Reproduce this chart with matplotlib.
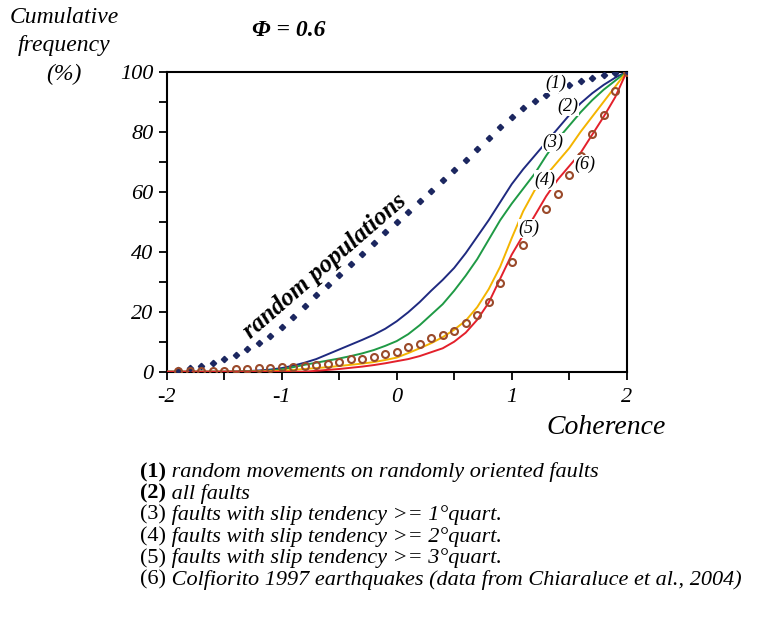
import numpy as np
import matplotlib
matplotlib.use("Agg")
import matplotlib.pyplot as plt

plt.rcParams['font.family'] = ['Liberation Serif', 'DejaVu Serif']

# coherence grid shared by every curve
coh = [round(-2.0 + 0.1 * i, 1) for i in range(41)]

# (1) random movements on randomly oriented faults (dotted)
random_pop = [0.0, 0.4, 1.1, 1.9, 2.8, 4.1, 5.6, 7.4, 9.6, 11.9,
              14.8, 18.3, 21.9, 25.6, 28.9, 32.2, 35.9, 39.3, 43.0, 46.4,
              50.0, 53.3, 56.9, 60.3, 63.9, 67.3, 70.7, 74.1, 77.8, 81.5,
              85.0, 87.8, 90.2, 92.3, 94.2, 95.7, 96.9, 98.0, 98.8, 99.4,
              100.0]
# (2) all faults
all_faults = [0.0, 0.0, 0.0, 0.0, 0.0, 0.0, 0.1, 0.2, 0.4, 0.7,
              1.2, 2.0, 3.0, 4.2, 5.8, 7.4, 9.0, 10.6, 12.3, 14.3,
              16.8, 19.8, 23.2, 27.0, 30.6, 34.6, 39.5, 45.0, 50.5, 56.5,
              62.5, 67.5, 72.0, 76.5, 81.0, 85.5, 89.5, 92.8, 95.6, 98.0,
              100.0]
# (3) slip tendency >= 1st quartile
st_q1 = [0.0, 0.0, 0.0, 0.0, 0.0, 0.0, 0.0, 0.1, 0.2, 0.4,
         0.8, 1.5, 2.3, 3.0, 3.7, 4.4, 5.2, 6.1, 7.2, 8.6,
         10.2, 12.5, 15.5, 19.0, 22.5, 27.0, 32.0, 37.5, 44.0, 50.5,
         56.0, 61.0, 66.0, 72.0, 77.5, 82.0, 86.5, 90.5, 94.0, 97.0,
         100.0]
# (4) slip tendency >= 2nd quartile
st_q2 = [0.0, 0.0, 0.0, 0.0, 0.0, 0.0, 0.0, 0.0, 0.1, 0.2,
         0.3, 0.6, 0.9, 1.2, 1.5, 1.9, 2.3, 2.7, 3.2, 3.9,
         4.7, 6.2, 7.8, 9.5, 11.5, 14.0, 17.0, 21.5, 27.5, 35.0,
         44.5, 53.5, 60.5, 65.5, 70.0, 74.5, 80.0, 85.0, 90.0, 95.0,
         100.0]
# (5) slip tendency >= 3rd quartile
st_q3 = [0.0, 0.0, 0.0, 0.0, 0.0, 0.0, 0.0, 0.0, 0.0, 0.0,
         0.0, 0.0, 0.0, 0.3, 0.6, 0.9, 1.3, 1.7, 2.2, 2.8,
         3.5, 4.2, 5.2, 6.5, 7.8, 10.0, 13.0, 17.3, 23.0, 31.0,
         39.0, 45.5, 52.0, 58.5, 64.0, 68.5, 73.0, 79.0, 85.0, 91.5,
         100.0]
# (6) Colfiorito 1997 sequence
colf_x = coh[1:]
colf = [0.3, 0.3, 0.3, 0.3, 0.2, 0.8, 0.8, 1.1, 1.1,
        1.4, 1.7, 1.9, 2.2, 2.6, 3.3, 4.1, 4.3, 5.0, 5.8,
        6.6, 8.1, 9.1, 11.1, 12.2, 13.6, 16.1, 18.9, 23.1, 29.7,
        36.7, 42.2, 48.0, 54.2, 59.1, 65.6, 72.0, 79.2, 85.6, 93.6,
        100.0]

xtick_vals = [-2, -1, 0, 1, 2]
xtick_text = ["-2", "-1", "0", "1", "2"]

curve_labels = ["(1)", "(2)", "(3)", "(4)", "(5)", "(6)"]
label_pos = [(1.38, 96.0), (1.49, 88.3), (1.36, 76.4),
             (1.29, 63.9), (1.15, 47.8), (1.64, 69.1)]

legend_lines = [
    ("(1)", "bold", " random movements on randomly oriented faults"),
    ("(2)", "bold", " all faults"),
    ("(3)", "normal", " faults with slip tendency >= 1\u00b0quart."),
    ("(4)", "normal", " faults with slip tendency >= 2\u00b0quart."),
    ("(5)", "normal", " faults with slip tendency >= 3\u00b0quart."),
    ("(6)", "normal", " Colfiorito 1997 earthquakes (data from Chiaraluce et al., 2004)"),
]

fig = plt.figure(figsize=(7.59, 6.2), dpi=100)
ax = fig.add_axes([0.2196, 0.4005, 0.6061, 0.4839])

ax.plot(coh, all_faults, color='#1f2a80', lw=1.4, zorder=3)
ax.plot(coh, st_q1, color='#1f9a45', lw=1.4, zorder=3)
ax.plot(coh, st_q2, color='#f4b400', lw=1.4, zorder=3)
ax.plot(coh, st_q3, color='#e3202b', lw=1.4, zorder=3)
ax.plot(coh[1:], random_pop[1:], ls='none', marker='D', ms=3.2,
        color='#1c2760', zorder=4)
ax.plot(colf_x, colf, ls='none', marker='o', ms=5, mfc='none', mew=1.5,
        mec='#9a4a2a', zorder=5)

for lab, (lx, ly) in zip(curve_labels, label_pos):
    ax.text(lx, ly, lab, style='italic', fontsize=13, ha='center', va='center',
            zorder=6, bbox=dict(boxstyle='square,pad=0.05', fc='white', ec='none'))

ax.text(-0.62, 35.3, "random populations", rotation=41, style='italic',
        weight='bold', fontsize=18, ha='center', va='center',
        rotation_mode='anchor', zorder=6)

ax.set_xlim(-2, 2)
ax.set_ylim(0, 100)
ax.set_xticks(xtick_vals)
ax.set_xticklabels(xtick_text)
ax.set_xticks(np.arange(-2, 2.01, 0.5), minor=True)
ax.set_yticks(range(0, 101, 20))
ax.set_yticks(range(0, 101, 10), minor=True)
ax.tick_params(which='both', direction='out', width=1.3, top=False, right=False)
ax.tick_params(which='major', length=6, labelsize=16)
ax.tick_params(axis='x', which='major', pad=6)
ax.tick_params(which='minor', length=6)
for t in ax.get_xticklabels() + ax.get_yticklabels():
    t.set_style('italic')
for sp in ax.spines.values():
    sp.set_linewidth(1.5)

fig.text(546 / 759, 1 - 428 / 620, "Coherence", style='italic', fontsize=20,
         ha='left', va='center')
fig.text(64 / 759, 1 - 46 / 620, "Cumulative\nfrequency\n(%)", style='italic',
         fontsize=17, ha='center', va='center', linespacing=1.45)
fig.text(289 / 759, 1 - 31 / 620, "\u03a6 = 0.6", style='italic', weight='bold',
         fontsize=17, ha='center', va='center')

# caption block under the axes
for i, (num, w, desc) in enumerate(legend_lines):
    y = 1 - (472 + 21.6 * i) / 620
    t = fig.text(140 / 759, y, num, weight=w, fontsize=16, ha='left', va='center')
    fig.canvas.draw()
    bb = t.get_window_extent()
    fig.text(bb.x1 / fig.bbox.width, y, desc, style='italic', fontsize=16,
             ha='left', va='center')

fig.savefig("out.png", dpi=100)
